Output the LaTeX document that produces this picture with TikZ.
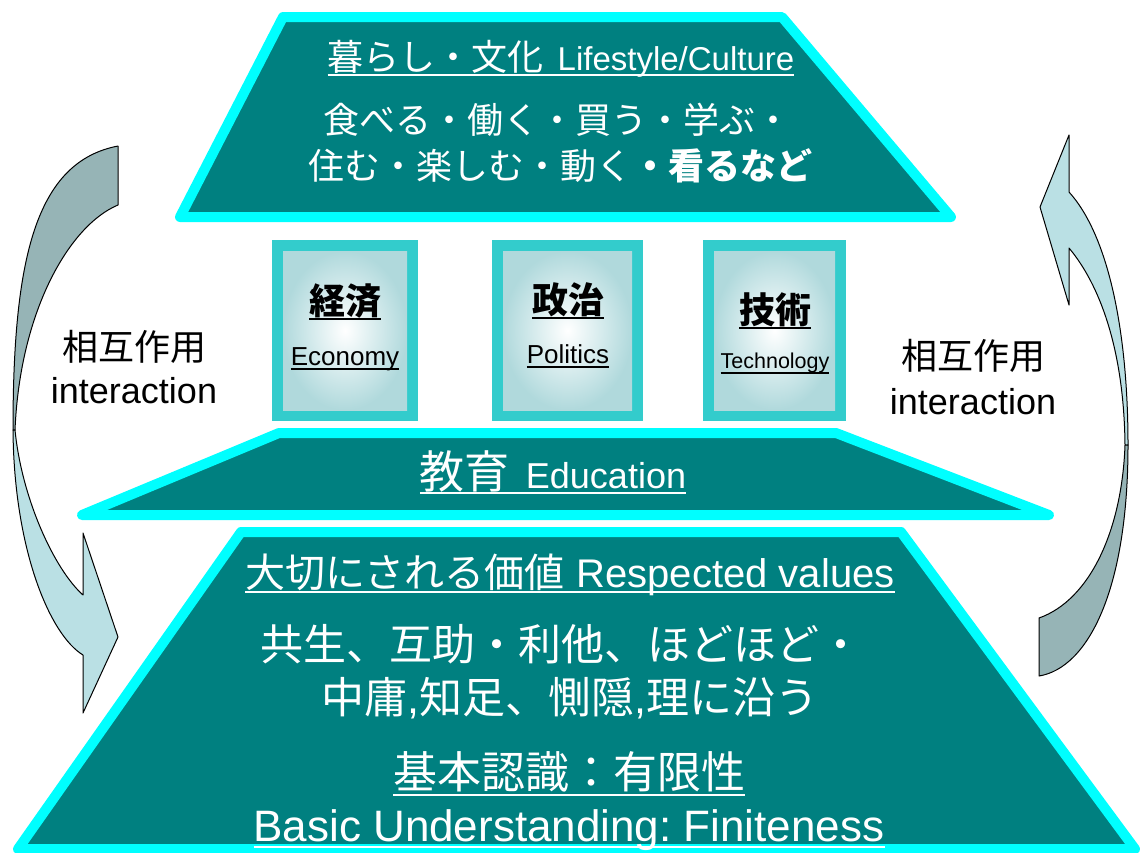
\documentclass[tikz,border=0pt]{standalone}
\usepackage{fontspec}
\setmainfont{Liberation Sans}
\newfontfamily\jp{Noto Sans CJK JP}
\usetikzlibrary{calc}
\definecolor{tealfill}{HTML}{008080}
\definecolor{cyanline}{HTML}{00FFFF}
\definecolor{pillarline}{HTML}{33CCCC}
\definecolor{pillarin}{HTML}{B0D9DC}
\definecolor{arrdark}{HTML}{96B4B6}
\definecolor{arrlight}{HTML}{BAE0E4}
\newcommand{\fs}[1]{\fontsize{#1pt}{#1pt}\selectfont}
\frenchspacing
\begin{document}
\begin{tikzpicture}[x=1pt,y=-1pt,
  txt/.style={inner sep=0pt, outer sep=0pt, anchor=base},
  wtxt/.style={txt, text=white},
  btxt/.style={txt, text=black},
  tier/.style={fill=tealfill, draw=cyanline, line width=10pt, line join=round},
  pillarframe/.style={fill=pillarline},
  pillarcore/.style={inner color=white, outer color=pillarin},
  arrowdark/.style={fill=arrdark, draw=black, line width=1pt, line join=round},
  arrowlight/.style={fill=arrlight, draw=black, line width=1pt, line join=round},
  ulw/.style={draw=white, line width=2.5pt},
  ulb/.style={draw=black, line width=2.2pt}
]
\useasboundingbox (0,0) rectangle (1140,852);
\fill[white] (0,0) rectangle (1140,852);

% curved interaction arrows
\path[arrowdark] (118,146) .. controls (35,162) and (13,260) .. (13,430) -- (15,430)
  .. controls (20,310) and (70,225) .. (118,205) -- cycle;
\path[arrowlight] (13,430) .. controls (14,550) and (50,635) .. (83,655) -- (83,713)
  -- (118,637) -- (83,533) -- (83,595) .. controls (55,570) and (22,500) .. (15,430) -- cycle;

\path[arrowlight] (1069,135) -- (1040,207) -- (1069,305) -- (1069,248)
  .. controls (1100,285) and (1124,350) .. (1125,445) -- (1128,445)
  .. controls (1128,330) and (1108,235) .. (1069,192) -- cycle;
\path[arrowdark] (1128,445) .. controls (1128,590) and (1088,668) .. (1039,676) -- (1039,618)
  .. controls (1090,600) and (1122,530) .. (1125,445) -- cycle;

% tiers
\path[tier] (283,17) -- (782,17) -- (951,217) -- (180,217) -- cycle;
\path[tier] (279,433) -- (836,433) -- (1049,515) -- (82,515) -- cycle;
\path[tier] (241,532) -- (901,532) -- (1135,849) -- (18,849) -- cycle;

% pillars
\fill[pillarframe] (272,240) rectangle (418,421);
\shade[pillarcore] (283,251) rectangle (407,410);
\fill[pillarframe] (492,240) rectangle (643,421);
\shade[pillarcore] (503,251) rectangle (632,410);
\fill[pillarframe] (703,240) rectangle (846,421);
\shade[pillarcore] (714,251) rectangle (835,410);

% top tier text
\node[wtxt] (t1) at (561,70) {{\jp\fs{36}暮らし・文化}\hspace{14pt}{\fs{33}Lifestyle/Culture}};
\draw[ulw] ([yshift=-5pt]t1.base west) -- ([yshift=-5pt]t1.base east);
\node[wtxt] (t2) at (557,133) {\jp\fs{36}食べる・働く・買う・学ぶ・};
\node[wtxt] (t3) at (560,179) {\jp\fs{36}住む・楽しむ・動く{\bfseries ・看るなど}};

% pillar text
\node[btxt] (p1a) at (345,314) {\jp\fs{36}\bfseries 経済};
\draw[ulb] ([yshift=-5pt]p1a.base west) -- ([yshift=-5pt]p1a.base east);
\node[btxt] (p1b) at (345,365) {\fs{26}Economy};
\draw[ulb] ([yshift=-4pt]p1b.base west) -- ([yshift=-4pt]p1b.base east);
\node[btxt] (p2a) at (568,313) {\jp\fs{36}\bfseries 政治};
\draw[ulb] ([yshift=-5pt]p2a.base west) -- ([yshift=-5pt]p2a.base east);
\node[btxt] (p2b) at (568,363) {\fs{26}Politics};
\draw[ulb] ([yshift=-4pt]p2b.base west) -- ([yshift=-4pt]p2b.base east);
\node[btxt] (p3a) at (775,323) {\jp\fs{36}\bfseries 技術};
\draw[ulb] ([yshift=-5pt]p3a.base west) -- ([yshift=-5pt]p3a.base east);
\node[btxt] (p3b) at (775,368) {\fs{21.5}Technology};
\draw[ulb] ([yshift=-5pt]p3b.base west) -- ([yshift=-5pt]p3b.base east);

% education
\node[wtxt] (ed) at (553,488) {{\jp\fs{45}教育}\hspace{16pt}{\fs{36}Education}};
\draw[ulw] ([yshift=-5pt]ed.base west) -- ([yshift=-5pt]ed.base east);

% bottom tier text
\node[wtxt] (b1) at (570,587) {{\jp\fs{40}大切にされる価値}\hspace{12pt}{\fs{40}Respected values}};
\draw[ulw] ([yshift=-5pt]b1.base west) -- ([yshift=-5pt]b1.base east);
\node[wtxt] (b2) at (561,660) {\jp\fs{43}共生、互助・利他、ほどほど・};
\node[wtxt] (b3) at (570,713) {\fs{43}{\jp 中庸},{\jp 知足、惻隠},{\jp 理に沿う}};
\node[wtxt] (b4) at (569,788) {\jp\fs{44}基本認識：有限性};
\draw[ulw] ([yshift=-7pt]b4.base west) -- ([yshift=-7pt]b4.base east);
\node[wtxt] (b5) at (569,841) {\fs{44}Basic Understanding: Finiteness};
\draw[ulw] ([yshift=-6pt]b5.base west) -- ([yshift=-6pt]b5.base east);

% side labels
\node[btxt] (l1) at (134,360) {\jp\fs{36}相互作用};
\node[btxt] (l2) at (134,403) {\fs{36}interaction};
\node[btxt] (r1) at (973,369) {\jp\fs{36}相互作用};
\node[btxt] (r2) at (973,414) {\fs{36}interaction};
\end{tikzpicture}
\end{document}
